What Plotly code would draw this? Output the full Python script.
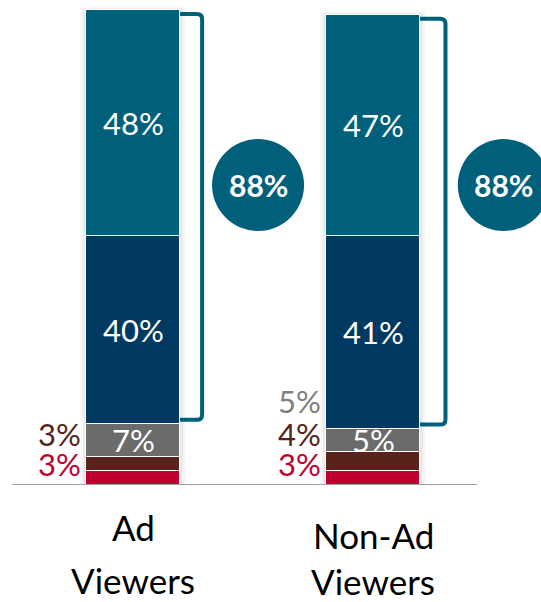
import plotly.graph_objects as go

# ---- data -------------------------------------------------------------
groups = ["Ad<br>Viewers", "Non-Ad<br>Viewers"]
segments = ["Red", "Brown", "Gray", "Navy", "Teal"]          # bottom -> top
red = [3, 3]
brown = [3, 4]
gray = [7, 5]
navy = [40, 41]
teal = [48, 47]
top_two = [88, 88]                                           # bracketed total

series = [red, brown, gray, navy, teal]

# ---- style ------------------------------------------------------------
COLORS = {
    "Red": "#C00030",
    "Brown": "#58231A",
    "Gray": "#6B6B6B",
    "Navy": "#003962",
    "Teal": "#00607B",
}
SIDE_LABEL_COLORS = {"Red": "#C00030", "Brown": "#58231A", "Gray": "#7F7F7F"}
FONT = "Lato"
PX_PER_UNIT_X = 240.0
PX_PER_PCT = 4.703
BAR_W = 0.392
W, H = 541, 602
MT, MB = 0, 117
PLOT_H = H - MT - MB
X0_PX = 133  # pixel position of the first group

x_pos = list(range(len(groups)))

fig = go.Figure()

# soft shadow behind each stacked bar
shapes = []
for i, xc in enumerate(x_pos):
    total = sum(s[i] for s in series)
    for grow, alpha in ((0.022, 0.035), (0.012, 0.05)):
        shapes.append(dict(
            type="rect", layer="below", xref="x", yref="y",
            x0=xc - BAR_W / 2 - grow, x1=xc + BAR_W / 2 + grow,
            y0=0, y1=total + grow * PX_PER_UNIT_X / PX_PER_PCT * 0.5,
            fillcolor=f"rgba(0,0,0,{alpha})", line=dict(width=0),
        ))

for name, vals in zip(segments, series):
    fig.add_trace(go.Bar(
        x=x_pos, y=vals, name=name, width=BAR_W,
        marker=dict(color=COLORS[name], line=dict(color="white", width=1.5)),
        hoverinfo="skip", showlegend=False,
    ))

annotations = []

# white value labels centred inside the larger segments
inside = {"Gray": [True, True], "Navy": [True, True], "Teal": [True, True]}
for i, xc in enumerate(x_pos):
    base = 0
    for name, vals in zip(segments, series):
        v = vals[i]
        if name in inside and inside[name][i]:
            annotations.append(dict(
                x=xc, y=base + v / 2, xref="x", yref="y",
                text=f"{v}%", showarrow=False,
                font=dict(family=FONT, size=31, color="white"),
                xanchor="center", yanchor="middle",
            ))
        base += v

# small-segment labels stacked on the left of each bar
side_labels = [
    [("Brown", brown), ("Red", red)],
    [("Gray", gray), ("Brown", brown), ("Red", red)],
]
SIDE_CENTERS_PX = {"Red": 464, "Brown": 433.5, "Gray": 401}
for i, xc in enumerate(x_pos):
    for name, vals in side_labels[i]:
        annotations.append(dict(
            x=xc - BAR_W / 2, y=0, xref="x", yref="y",
            text=f"{vals[i]}%", showarrow=False, height=28,
            font=dict(family=FONT, size=31, color=SIDE_LABEL_COLORS[name]),
            xanchor="right", yanchor="middle",
            xshift=-3, yshift=(MT + PLOT_H) - SIDE_CENTERS_PX[name],
        ))

# brackets spanning the top two segments, with a circled total
BRACKET_RIGHT = [0.288, 0.302]
CIRCLE_X = [0.521, 1.545]
CIRCLE_Y_PX = 185
R_PX = 46
inset = 0.85
rx, ry = 0.022, 1.1
for i, xc in enumerate(x_pos):
    lo = red[i] + brown[i] + gray[i] + inset
    hi = red[i] + brown[i] + gray[i] + navy[i] + teal[i] - inset
    xe = xc + BAR_W / 2
    xr = xc + BRACKET_RIGHT[i]
    path = (f"M {xe},{hi} L {xr - rx},{hi} Q {xr},{hi} {xr},{hi - ry} "
            f"L {xr},{lo + ry} Q {xr},{lo} {xr - rx},{lo} L {xe},{lo}")
    shapes.append(dict(type="path", path=path, xref="x", yref="y",
                       line=dict(color=COLORS["Teal"], width=4)))
    cy = (PLOT_H - CIRCLE_Y_PX) / PX_PER_PCT
    shapes.append(dict(
        type="circle", xref="x", yref="y",
        xsizemode="pixel", ysizemode="pixel",
        xanchor=CIRCLE_X[i], yanchor=cy,
        x0=-R_PX, x1=R_PX, y0=-R_PX, y1=R_PX,
        fillcolor=COLORS["Teal"], line=dict(width=0),
    ))
    annotations.append(dict(
        x=CIRCLE_X[i], y=cy, xref="x", yref="y",
        text=f"<b>{top_two[i]}%</b>", showarrow=False,
        font=dict(family=FONT, size=30, color="white"),
        xanchor="center", yanchor="middle",
    ))

# baseline
shapes.append(dict(type="line", xref="paper", yref="y",
                   x0=12 / W, x1=477 / W, y0=0, y1=0,
                   line=dict(color="#A3A3A3", width=2)))

# category labels below the baseline, one annotation per line
LINE_CENTERS_PX = [(527, 580), (534.5, 581)]
for i, xc in enumerate(x_pos):
    for line, cpx in zip(groups[i].split("<br>"), LINE_CENTERS_PX[i]):
        annotations.append(dict(
            x=xc, y=0, xref="x", yref="y", text=line, showarrow=False,
            height=34,
            font=dict(family=FONT, size=35, color="black"),
            xanchor="center", yanchor="middle",
            yshift=(MT + PLOT_H) - cpx,
        ))

x_lo = -X0_PX / PX_PER_UNIT_X
x_hi = (W - X0_PX) / PX_PER_UNIT_X
fig.update_layout(
    width=W, height=H,
    margin=dict(l=0, r=0, t=MT, b=MB, pad=0),
    barmode="stack", bargap=0,
    plot_bgcolor="white", paper_bgcolor="white",
    xaxis=dict(range=[x_lo, x_hi], showgrid=False, zeroline=False,
               showticklabels=False, showline=False, fixedrange=True),
    yaxis=dict(range=[0, PLOT_H / PX_PER_PCT], showgrid=False,
               zeroline=False, showticklabels=False, showline=False,
               fixedrange=True),
    shapes=shapes,
    annotations=annotations,
    showlegend=False,
)

fig.write_html("out.html", config={"displayModeBar": False})
